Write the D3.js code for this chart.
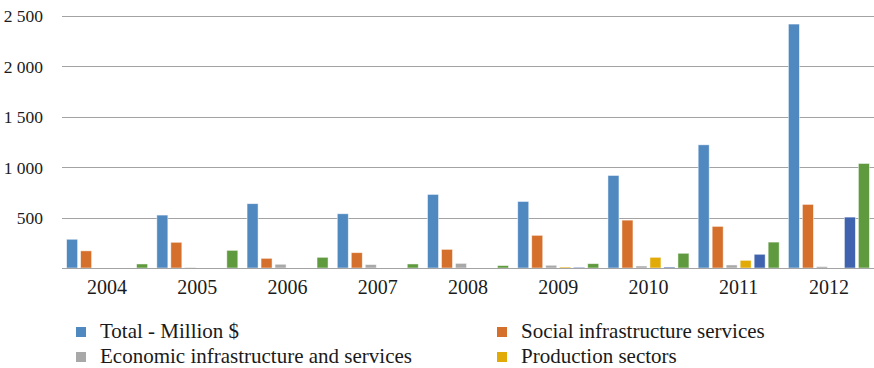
<!DOCTYPE html>
<html>
<head>
<meta charset="utf-8">
<script src="https://cdn.jsdelivr.net/npm/d3@7"></script>
<style>
  html, body { margin: 0; padding: 0; background: #fff; }
  svg { display: block; }
</style>
</head>
<body>
<svg id="chart" width="874" height="368"></svg>
<script>
// Aid disbursements by sector, million US$
const years = ["2004", "2005", "2006", "2007", "2008", "2009", "2010", "2011", "2012"];
const seriesNames = [
  "Total - Million $",
  "Social infrastructure services",
  "Economic infrastructure and services",
  "Production sectors",
  "Multi-sector / cross-cutting",
  "Other"
];
const total      = [285, 525, 638, 538, 730, 660, 918, 1222, 2420];
const social     = [170, 255, 96, 152, 185, 324, 475, 413, 631];
const economic   = [0, 5, 37, 34, 46, 27, 20, 30, 14];
const production = [0, 0, 0, 0, 0, 10, 106, 76, 0];
const multi      = [0, 0, 0, 0, 0, 8, 10, 136, 505];
const other      = [40, 175, 106, 40, 24, 43, 146, 257, 1037];
const yTicks = [500, 1000, 1500, 2000, 2500];
const legendItems = [0, 1, 2, 3];

const seriesValues = [total, social, economic, production, multi, other];
const colors = ["#5088C0", "#D4702C", "#A8A8A8", "#E2AA06", "#3F63AE", "#5F9A3F"];
const FONT = "'Liberation Serif'";
const TEXT_COLOR = "#1a1a1a";

const svg = d3.select("#chart");
const plot = { left: 62, right: 874, top: 16, bottom: 268 };

const x0 = d3.scaleBand().domain(years).range([plot.left, plot.right]).paddingInner(0).paddingOuter(0);
const x1 = d3.scaleBand().domain(d3.range(seriesNames.length))
  .range([0, x0.bandwidth()]).paddingInner(0.214).paddingOuter(0.33);
const y = d3.scaleLinear().domain([0, 2500]).range([plot.bottom, plot.top]);

const fmt = v => d3.format(",")(v).replace(/,/g, " ");

// text style shared by ticks and legend
const styleText = (sel, size) => sel
  .style("font-family", FONT)
  .style("font-size", size + "px")
  .style("fill", TEXT_COLOR);

// gridlines
svg.append("g").selectAll("line").data(yTicks).join("line")
  .attr("x1", plot.left).attr("x2", plot.right)
  .attr("y1", d => Math.round(y(d)) + 0.5).attr("y2", d => Math.round(y(d)) + 0.5)
  .attr("stroke", "#A3A3A3").attr("stroke-width", 1.2);

// y axis labels
const yAxis = d3.axisLeft(y).tickValues(yTicks).tickFormat(fmt).tickSize(0).tickPadding(0);
const yg = svg.append("g").attr("transform", `translate(${plot.left - 19},0)`).call(yAxis);
yg.select(".domain").remove();
yg.selectAll("text").attr("dy", "0.34em").call(styleText, 17.5);

// bars
const groups = svg.append("g").selectAll("g").data(years).join("g")
  .attr("transform", d => `translate(${x0(d)},0)`);
groups.selectAll("rect")
  .data((d, i) => seriesValues.map((vals, s) => ({ s, v: vals[i] })).filter(e => e.v > 0))
  .join("rect")
  .attr("x", d => x1(d.s))
  .attr("width", x1.bandwidth())
  .attr("y", d => y(d.v))
  .attr("height", d => y(0) - y(d.v))
  .attr("fill", d => colors[d.s])
  .attr("stroke", "#ffffff").attr("stroke-opacity", 0.6).attr("stroke-width", 0.8);

// baseline and x axis labels
svg.append("line")
  .attr("x1", plot.left).attr("x2", plot.right)
  .attr("y1", y(0) + 0.5).attr("y2", y(0) + 0.5)
  .attr("stroke", "#A3A3A3").attr("stroke-width", 1.2);

const xAxis = d3.axisBottom(x0).tickSize(0).tickPadding(0);
const xg = svg.append("g").attr("transform", `translate(0,${plot.bottom + 26})`).call(xAxis);
xg.select(".domain").remove();
xg.selectAll("text").attr("dy", 0).call(styleText, 20);

// legend
const legendCols = [76, 497];
const legendRows = [331, 356];
const lg = svg.append("g").selectAll("g").data(legendItems).join("g")
  .attr("transform", (d, i) => `translate(${legendCols[i % 2]},${legendRows[Math.floor(i / 2)]})`);
lg.append("rect").attr("x", 0).attr("y", -4).attr("width", 10).attr("height", 10)
  .attr("fill", d => colors[d]);
lg.append("text").attr("x", 24).attr("y", 0).attr("dy", "0.34em")
  .call(styleText, 21)
  .text(d => seriesNames[d]);
</script>
</body>
</html>
